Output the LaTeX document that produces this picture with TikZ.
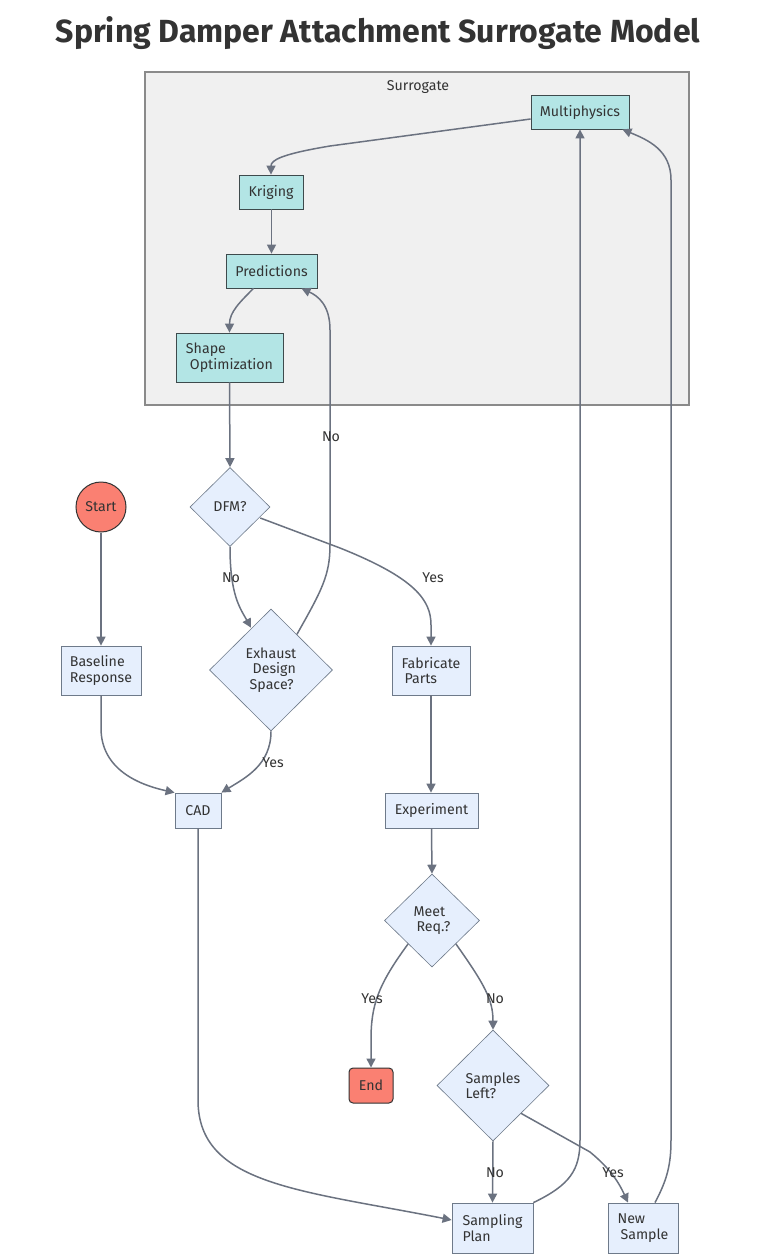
\documentclass[tikz,border=0pt]{standalone}
\usepackage{fontspec}
\setmainfont{Fira Sans}
\usetikzlibrary{shapes.geometric,arrows.meta,calc}
\definecolor{edgec}{HTML}{6B7280}
\definecolor{bluefill}{HTML}{E6EFFD}
\definecolor{bluestroke}{HTML}{6E7A8A}
\definecolor{tealfill}{HTML}{B3E5E5}
\definecolor{tealstroke}{HTML}{3E4A4C}
\definecolor{salmon}{HTML}{FA8072}
\definecolor{txt}{HTML}{333333}
\definecolor{clusterfill}{HTML}{F0F0F0}
\definecolor{clusterstroke}{HTML}{8A8A8A}
\begin{document}
\begin{tikzpicture}[x=1pt,y=-1pt,
  every node/.style={font=\fontsize{14.2}{15.5}\selectfont, text=txt},
  proc/.style={draw=bluestroke, fill=bluefill, line width=0.8pt, inner sep=0pt, align=left},
  teal/.style={draw=tealstroke, fill=tealfill, line width=0.8pt, inner sep=0pt, align=left},
  decide/.style={diamond, draw=bluestroke, fill=bluefill, line width=0.6pt, inner sep=0pt, align=left},
  term/.style={draw=txt, fill=salmon, line width=1pt},
  conn/.style={draw=edgec, line width=1.5pt, -{Triangle[length=9pt,width=9pt]}},
  lbl/.style={inner sep=1pt}
]
\useasboundingbox (0,0) rectangle (768,1256);
\fill[white] (0,0) rectangle (768,1256);

\node[font=\fontsize{32}{34}\selectfont\bfseries, text=txt] (title) at (378,33) {Spring Damper Attachment Surrogate Model};

% cluster
\node[draw=clusterstroke, fill=clusterfill, line width=1.2pt, minimum width=544, minimum height=333, inner sep=0pt] (cluster) at (417,238.5) {};
\node (clabel) at (418,87) {Surrogate};

% surrogate nodes
\node[teal, minimum width=98, minimum height=34, align=center] (mp) at (580,112) {Multiphysics};
\node[teal, minimum width=64, minimum height=34, align=center] (kr) at (271,192) {Kriging};
\node[teal, minimum width=91, minimum height=34, align=center] (pr) at (271.5,271) {Predictions};
\node[teal, minimum width=107, minimum height=49] (so) at (229.5,357.5) {Shape\\\hspace{4pt}Optimization};

% main nodes
\node[decide, minimum width=80, minimum height=79, align=center] (dfm) at (230,507) {DFM?};
\node[circle, term, minimum size=50, inner sep=0pt] (start) at (101,507) {Start};
\node[proc, minimum width=80, minimum height=49] (bl) at (101,670.5) {Baseline\\Response};
\node[decide, minimum width=123, minimum height=122] (ex) at (271,670) {Exhaust\\\hspace{7pt}Design\\\hspace{4pt}Space?};
\node[proc, minimum width=78, minimum height=49] (fab) at (431,670.5) {Fabricate\\\hspace{3pt}Parts};
\node[proc, minimum width=46, minimum height=35, align=center] (cad) at (198,810.5) {CAD};
\node[proc, minimum width=93, minimum height=35, align=center] (expt) at (431.5,810.5) {Experiment};
\node[decide, minimum width=95, minimum height=93] (meet) at (432,920.5) {Meet\\\hspace{3pt}Req.?};
\node[term, rounded corners=4pt, minimum width=44, minimum height=35, inner sep=0pt] (end) at (371,1085.5) {End};
\node[decide, minimum width=112, minimum height=111] (sl) at (493,1085.5) {Samples\\Left?};
\node[proc, minimum width=81, minimum height=50] (sp) at (492.5,1228) {Sampling\\Plan};
\node[proc, minimum width=70, minimum height=50] (ns) at (643,1228) {New\\\hspace{3pt}Sample};

% edges
\draw[conn] (mp.west |- 0,119) -- (330,146) .. controls (282,154) and (271,160) .. (kr.north);
\draw[conn] (kr.south) -- (pr.south |- kr.south) -- (pr.north);
\draw[conn] ($(pr.south)+(-18,0)$) .. controls (240,302) and (229.5,312) .. (so.north);
\draw[conn] (so.south) -- (dfm.north);
\draw[conn] (dfm.south) .. controls (230,595) and (240,608) .. ($(ex.north)+(-20,19)$);
\draw[conn] ($(dfm.east)+(-10,11)$) -- (340,548) .. controls (415,578) and (431,600) .. (431,625) -- (fab.north);
\draw[conn] ($(ex.north east)+(-5,-5)$) .. controls (322,590) and (330,575) .. (330,545) -- (330,330) .. controls (330,305) and (318,296) .. ($(pr.south)+(30,0)$);
\draw[conn] (start.south) -- (bl.north);
\draw[conn] (bl.south) -- (101,728) .. controls (101,770) and (140,785) .. (cad.north west);
\draw[conn] (ex.south) .. controls (271,765) and (245,778) .. (cad.north east);
\draw[conn] (fab.south) -- (expt.north -| fab.south);
\draw[conn] (expt.south) -- (meet.north);
\draw[conn] (meet.south west) .. controls (378,985) and (371,1005) .. (371,1040) -- (end.north);
\draw[conn] (meet.south east) .. controls (485,985) and (493,1000) .. (sl.north);
\draw[conn] (sl.south) -- (sp.north);
\draw[conn] (sl.south east) -- (590,1152) .. controls (612,1170) and (620,1185) .. ($(ns.north)+(-15,0)$);
\draw[conn] (cad.south) -- (198,1100) .. controls (198,1185) and (300,1190) .. ($(sp.west)+(0,-8)$);
\draw[conn] (sp.north east) .. controls (570,1185) and (580,1170) .. (580,1140) -- (mp.south);
\draw[conn] ($(ns.north)+(12,0)$) .. controls (667,1180) and (671,1165) .. (671,1140) -- (671,180) .. controls (671,150) and (648,140) .. ($(mp.south east)+(-7,0)$);

% labels
\node[lbl] (l1) at (231,578) {No};
\node[lbl] (l2) at (433,578) {Yes};
\node[lbl] (l3) at (331,437) {No};
\node[lbl] (l4) at (273,763) {Yes};
\node[lbl] (l5) at (372,999) {Yes};
\node[lbl] (l6) at (495,999) {No};
\node[lbl] (l7) at (495,1173) {No};
\node[lbl] (l8) at (613,1173) {Yes};
\end{tikzpicture}
\end{document}
